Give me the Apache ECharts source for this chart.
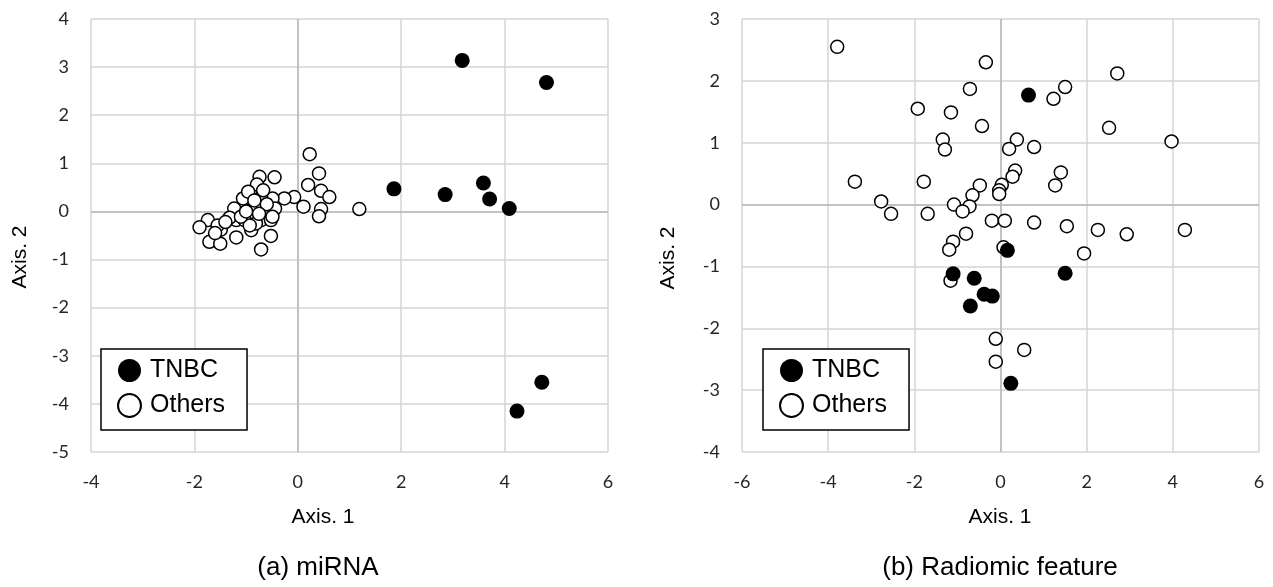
<!DOCTYPE html>
<html>
<head>
<meta charset="utf-8">
<script src="https://cdn.jsdelivr.net/npm/echarts@6/dist/echarts.min.js"></script>
<style>
  html, body { margin: 0; padding: 0; background: #fff; }
  #chart { width: 1273px; height: 587px; }
</style>
</head>
<body>
<div id="chart"></div>
<script>
// (a) miRNA
const miTnbc = [
  [3.18, 3.14], [4.81, 2.68], [1.86, 0.47], [2.85, 0.35], [3.59, 0.59],
  [3.71, 0.26], [4.09, 0.06], [4.72, -3.55], [4.24, -4.15]
]
const miOthers = [
  [0.23, 1.19], [0.41, 0.79], [-0.74, 0.72], [-0.45, 0.71], [0.2, 0.55],
  [-0.79, 0.56], [0.45, 0.43], [0.61, 0.30], [-0.07, 0.30], [-0.26, 0.27],
  [-0.49, 0.27], [-0.71, 0.29], [-0.93, 0.27], [-1.06, 0.27], [-0.96, 0.41],
  [0.11, 0.10], [0.45, 0.05], [0.41, -0.10], [1.19, 0.05], [-0.44, 0.06],
  [-0.82, 0.06], [-1.23, 0.06], [-0.71, -0.18], [-0.52, -0.18], [-1.19, -0.18],
  [-1.49, -0.38], [-1.74, -0.18], [-1.9, -0.33], [-1.71, -0.63], [-1.5, -0.67],
  [-1.19, -0.54], [-0.52, -0.51], [-0.71, -0.79], [-0.9, -0.39], [-1.55, -0.29],
  [-1.32, -0.13], [-1.03, -0.18], [-0.81, -0.25], [-0.49, -0.11], [-0.84, 0.23],
  [-0.67, 0.44], [-0.93, -0.29], [-1.10, -0.11], [-0.6, 0.15], [-1.0, 0.0],
  [-1.4, -0.22], [-0.75, -0.05], [-1.6, -0.45]
]

// (b) Radiomic feature
const radTnbc = [
  [0.65, 1.77], [0.16, -0.74], [-1.1, -1.12], [-0.61, -1.19], [1.5, -1.11],
  [-0.38, -1.45], [-0.19, -1.48], [-0.7, -1.64], [0.24, -2.89]
]
const radOthers = [
  [-3.79, 2.55], [-1.92, 1.55], [-1.15, 1.49], [-1.34, 1.05], [-1.29, 0.89],
  [-3.38, 0.37], [-1.78, 0.37], [-2.77, 0.05], [-2.54, -0.15], [-1.69, -0.15],
  [-1.08, 0.0], [-0.34, 2.3], [-0.71, 1.87], [-0.43, 1.27], [1.23, 1.71],
  [1.5, 1.9], [2.71, 2.12], [2.52, 1.24], [3.97, 1.02], [0.38, 1.05],
  [0.2, 0.9], [0.78, 0.93], [0.34, 0.55], [0.28, 0.45], [1.4, 0.52],
  [1.27, 0.31], [0.03, 0.32], [-0.03, 0.23], [-0.03, 0.17], [-0.48, 0.31],
  [-0.65, 0.15], [-0.72, -0.03], [-0.88, -0.11], [-0.2, -0.26], [0.1, -0.26],
  [0.78, -0.29], [1.54, -0.35], [2.26, -0.41], [2.93, -0.48], [4.28, -0.41],
  [1.94, -0.79], [-0.8, -0.47], [-1.1, -0.6], [-1.19, -0.73], [0.07, -0.69],
  [-1.16, -1.23], [-0.11, -2.17], [0.55, -2.35], [-0.11, -2.54]
]

const legendNames = ['TNBC', 'Others']
const axisTitleX = 'Axis. 1'
const axisTitleY = 'Axis. 2'
const captions = ['(a) miRNA', '(b) Radiomic feature']

const gridColor = '#d4d4d4'
const zeroColor = '#b8b8b8'
const tickFont = { color: '#262626', fontSize: 18, fontFamily: 'Lato' }

function xAxisOf(gridIndex, min, max) {
  return {
    type: 'value', gridIndex, min, max, interval: 2,
    axisLine: { show: false },
    axisTick: { show: false },
    splitLine: { lineStyle: { color: gridColor, width: 1.5 } },
    axisLabel: { ...tickFont, margin: 21 }
  }
}

function yAxisOf(gridIndex, min, max) {
  return {
    type: 'value', gridIndex, min, max, interval: 1,
    axisLine: { show: false },
    axisTick: { show: false },
    splitLine: { lineStyle: { color: gridColor, width: 1.5 } },
    axisLabel: { ...tickFont, margin: 22 }
  }
}

function othersSeries(idx, data) {
  return {
    name: 'Others', type: 'scatter', xAxisIndex: idx, yAxisIndex: idx,
    data, symbolSize: 13, z: 2,
    itemStyle: { color: '#fff', borderColor: '#000', borderWidth: 1.5, opacity: 1 },
    markLine: {
      silent: true, z: 1, symbol: ['none', 'none'],
      label: { show: false },
      lineStyle: { color: zeroColor, type: 'solid', width: 1.5 },
      data: [{ xAxis: 0 }, { yAxis: 0 }]
    }
  }
}

function tnbcSeries(idx, data) {
  return {
    name: 'TNBC', type: 'scatter', xAxisIndex: idx, yAxisIndex: idx,
    data, symbolSize: 15, z: 3,
    itemStyle: { color: '#000', opacity: 1 }
  }
}

function legendAt(left) {
  return {
    data: legendNames, orient: 'vertical', left, top: 349,
    icon: 'circle', itemWidth: 23, itemHeight: 23, itemGap: 10,
    padding: [9, 22, 12, 16],
    backgroundColor: '#fff', borderColor: '#000', borderWidth: 1.5,
    selectedMode: false,
    textStyle: { fontSize: 25, fontFamily: 'Liberation Sans', color: '#000', padding: [0, 0, 0, 4] }
  }
}

function label(text, x, y, size, rotation) {
  return {
    type: 'text', x, y, rotation: rotation || 0, z: 10,
    style: {
      text, fill: '#000', font: size + 'px "Liberation Sans", Arial, sans-serif',
      textAlign: 'center', textVerticalAlign: 'middle', verticalAlign: 'middle'
    }
  }
}

const chart = echarts.init(document.getElementById('chart'), null, { renderer: 'canvas' })
chart.setOption({
  backgroundColor: '#fff',
  animation: false,
  grid: [
    { left: 91, top: 19, width: 517, height: 433 },
    { left: 742, top: 19, width: 517, height: 433 }
  ],
  xAxis: [xAxisOf(0, -4, 6), xAxisOf(1, -6, 6)],
  yAxis: [yAxisOf(0, -5, 4), yAxisOf(1, -4, 3)],
  legend: [legendAt(101), legendAt(763)],
  series: [
    othersSeries(0, miOthers),
    tnbcSeries(0, miTnbc),
    othersSeries(1, radOthers),
    tnbcSeries(1, radTnbc)
  ],
  graphic: [
    label(axisTitleX, 323, 517, 21),
    label(axisTitleX, 1000, 517, 21),
    label(axisTitleY, 20, 257, 21, Math.PI / 2),
    label(axisTitleY, 668, 258, 21, Math.PI / 2),
    label(captions[0], 318, 568, 26),
    label(captions[1], 1000, 568, 26)
  ]
})
</script>
</body>
</html>
